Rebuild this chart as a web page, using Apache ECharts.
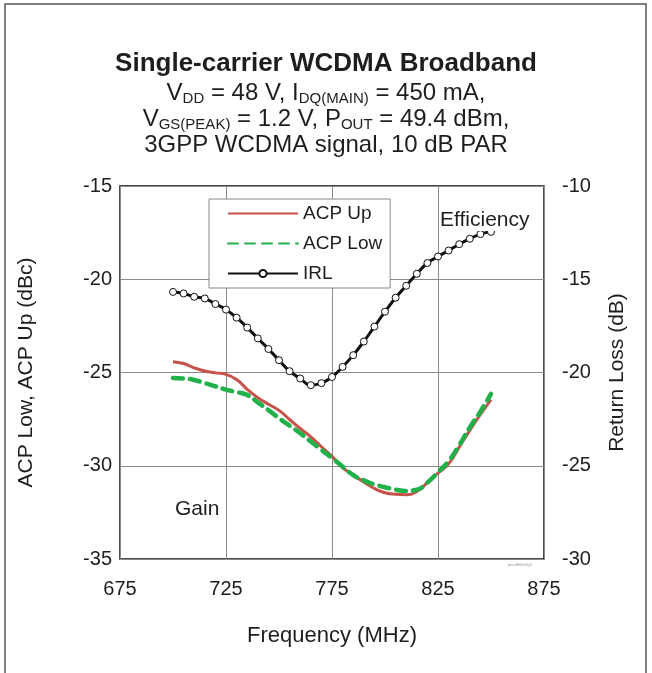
<!DOCTYPE html>
<html>
<head>
<meta charset="utf-8">
<title>Single-carrier WCDMA Broadband</title>
<script src="https://cdn.jsdelivr.net/npm/echarts@6/dist/echarts.min.js"></script>
<style>
    html, body { margin: 0; padding: 0; background: #fff; }
    #chart { width: 652px; height: 673px; }
</style>
</head>
<body>
<div id="chart"></div>
<script>
// 频率 (MHz)
var freq = [700, 705, 710, 715, 720, 725, 730, 735, 740, 745, 750, 755, 760, 765, 770,
    775, 780, 785, 790, 795, 800, 805, 810, 815, 820, 825, 830, 835, 840, 845, 850];

// ACP Up (dBc)
var acpUp = [-24.42, -24.52, -24.75, -24.92, -25.02, -25.1, -25.38, -25.9, -26.35, -26.7, -27.03,
    -27.52, -28.0, -28.45, -28.98, -29.5, -30.1, -30.5, -30.87, -31.22, -31.45, -31.53, -31.55,
    -31.38, -30.9, -30.4, -29.9, -29.0, -28.1, -27.25, -26.45];

// ACP Low (dBc)
var acpLow = [-25.3, -25.32, -25.4, -25.57, -25.74, -25.92, -26.05, -26.2, -26.6, -27.02, -27.45,
    -27.85, -28.25, -28.7, -29.15, -29.58, -30.05, -30.5, -30.78, -31.0, -31.15, -31.28, -31.35,
    -31.28, -30.9, -30.35, -29.75, -28.9, -27.95, -27.1, -26.15];

// IRL (dB) - 右轴
var irl = [-15.68, -15.76, -15.94, -16.03, -16.33, -16.63, -17.06, -17.59, -18.17, -18.74, -19.34,
    -19.93, -20.32, -20.68, -20.57, -20.24, -19.7, -19.07, -18.34, -17.54, -16.74, -15.99, -15.35,
    -14.71, -14.13, -13.78, -13.46, -13.12, -12.83, -12.58, -12.46];

// 刻度
var xTicks = [675, 725, 775, 825, 875];
var leftTicks = [-35, -30, -25, -20, -15];
var rightTicks = [-30, -25, -20, -15, -10];

var seriesNames = ['ACP Up', 'ACP Low', 'IRL'];

var font = 'Liberation Sans, Arial, Helvetica, sans-serif';
var ink = '#1e1e1e';

function pairs(ys) {
    var out = [];
    for (var i = 0; i < freq.length; i++) {
        out.push([freq[i], ys[i]]);
    }
    return out;
}

var chart = echarts.init(document.getElementById('chart'), null, { renderer: 'canvas' });

var option = {
    backgroundColor: '#fff',
    animation: false,
    title: [{
        text: 'Single-carrier WCDMA Broadband',
        left: 'center',
        top: 46,
        textStyle: {
            fontFamily: font,
            fontSize: 26,
            fontWeight: 'bold',
            color: ink
        }
    }, {
        //条件说明, 下标用 rich
        text: 'V{s|DD} = 48 V, I{s|DQ(MAIN)} = 450 mA,\n'
            + 'V{s|GS(PEAK)} = 1.2 V, P{s|OUT} = 49.4 dBm,\n'
            + '3GPP WCDMA signal, 10 dB PAR',
        left: 'center',
        top: 75,
        textStyle: {
            fontFamily: font,
            fontSize: 24,
            fontWeight: 'normal',
            color: ink,
            lineHeight: 26,
            rich: {
                s: {
                    fontFamily: font,
                    fontSize: 15,
                    color: ink,
                    verticalAlign: 'bottom',
                    lineHeight: 20
                }
            }
        }
    }],
    legend: {
        data: [
            { name: seriesNames[0], itemStyle: { opacity: 0 } },
            { name: seriesNames[1], itemStyle: { opacity: 0 } },
            { name: seriesNames[2] }
        ],
        orient: 'vertical',
        left: 209,
        top: 199,
        itemWidth: 70,
        itemHeight: 9,
        itemGap: 11,
        padding: [5, 8, 5, 18],
        backgroundColor: '#fff',
        borderColor: '#888',
        borderWidth: 1,
        textStyle: {
            fontFamily: font,
            fontSize: 19,
            color: ink
        }
    },
    grid: {
        left: 120,
        top: 186,
        right: 108,
        bottom: 114,
        show: true,
        borderColor: '#111',
        borderWidth: 1.5,
        containLabel: false
    },
    xAxis: {
        type: 'value',
        min: xTicks[0],
        max: xTicks[xTicks.length - 1],
        interval: 50,
        name: 'Frequency (MHz)',
        nameLocation: 'middle',
        nameGap: 66,
        nameTextStyle: { fontFamily: font, fontSize: 22, color: ink },
        axisLine: { show: false },
        axisTick: { show: false },
        axisLabel: { fontFamily: font, fontSize: 20, color: ink, margin: 20 },
        splitLine: { show: true, lineStyle: { color: '#8a8a8a', width: 1 } }
    },
    yAxis: [{
        type: 'value',
        min: leftTicks[0],
        max: leftTicks[leftTicks.length - 1],
        interval: 5,
        name: 'ACP Low, ACP Up (dBc)',
        nameLocation: 'middle',
        nameGap: 83,
        nameTextStyle: { fontFamily: font, fontSize: 21, color: ink },
        axisLine: { show: false },
        axisTick: { show: false },
        axisLabel: { fontFamily: font, fontSize: 20, color: ink, margin: 8 },
        splitLine: { show: true, lineStyle: { color: '#8a8a8a', width: 1 } }
    }, {
        type: 'value',
        position: 'right',
        min: rightTicks[0],
        max: rightTicks[rightTicks.length - 1],
        interval: 5,
        name: 'Return Loss (dB)',
        nameLocation: 'middle',
        nameGap: 63,
        nameRotate: 90,
        nameTextStyle: { fontFamily: font, fontSize: 21, color: ink },
        axisLine: { show: false },
        axisTick: { show: false },
        axisLabel: { fontFamily: font, fontSize: 20, color: ink, margin: 18 },
        splitLine: { show: false }
    }],
    series: [{
        name: seriesNames[0],
        type: 'line',
        data: pairs(acpUp),
        smooth: true,
        symbol: 'none',
        z: 3,
        itemStyle: { color: '#c8524a' },
        lineStyle: { color: '#c8524a', width: 3 }
    }, {
        name: seriesNames[1],
        type: 'line',
        data: pairs(acpLow),
        smooth: true,
        symbol: 'none',
        z: 4,
        itemStyle: { color: '#22b04b' },
        lineStyle: { color: '#22b04b', width: 4.5, type: [10, 7], cap: 'round' }
    }, {
        name: seriesNames[2],
        type: 'line',
        yAxisIndex: 1,
        data: pairs(irl),
        smooth: true,
        symbol: 'circle',
        symbolSize: 7,
        z: 5,
        itemStyle: { color: '#fff', borderColor: '#111', borderWidth: 1 },
        lineStyle: { color: '#111', width: 3 }
    }],
    graphic: [{
        type: 'rect',
        silent: true,
        z: -10,
        shape: { x: 5, y: 4, width: 641, height: 690 },
        style: { fill: 'none', stroke: '#555', lineWidth: 1.5 }
    }, {
        type: 'text',
        z: 100,
        left: 439,
        top: 210,
        style: {
            text: 'Efficiency',
            fontFamily: font,
            fontSize: 21,
            fill: ink,
            backgroundColor: '#fff',
            padding: [0, 1, 0, 1]
        }
    }, {
        type: 'text',
        z: 100,
        left: 175,
        top: 499,
        style: { text: 'Gain', fontFamily: font, fontSize: 21, fill: ink }
    }, {
        type: 'text',
        z: 100,
        left: 508,
        top: 563,
        style: { text: 'pbsd8000fig3', fontFamily: font, fontSize: 4, fill: '#999' }
    }]
};

chart.setOption(option);
</script>
</body>
</html>
